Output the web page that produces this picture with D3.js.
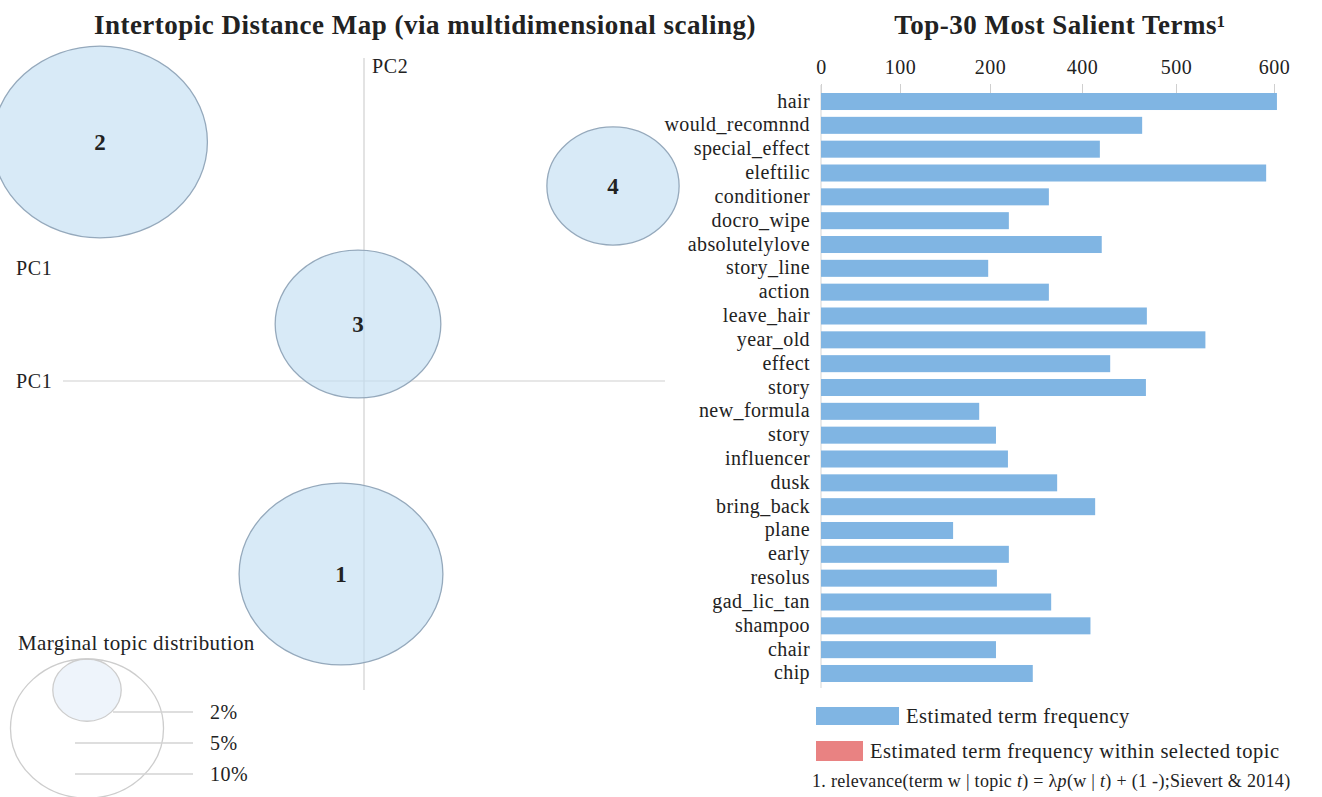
<!DOCTYPE html>
<html>
<head>
    <title>Intertopic Distance Map</title>
    <script src="https://d3js.org/d3.v7.min.js"></script>
    <style>
        body { margin: 0; background: #fff; }
        text { font-family: "Liberation Serif", "DejaVu Serif", serif; fill: #222; }
    </style>
</head>
<body>
    <div id="chart"></div>
    <script>
        // Topics (left panel)
        const topicIds = [1, 2, 3, 4];
        const topicPC1 = [-0.023, -0.264, -0.006, 0.249];
        const topicPC2 = [-0.193, 0.239, 0.057, 0.195];
        const topicShare = [17.1, 19.0, 11.3, 7.2];

        // Legend of marginal topic distribution
        const legendShares = [2, 10];
        const legendLabels = ["2%", "5%", "10%"];

        // Terms (right panel)
        const terms = ["hair", "would_recomnnd", "special_effect", "eleftilic", "conditioner", "docro_wipe",
            "absolutelylove", "story_line", "action", "leave_hair", "year_old", "effect", "story",
            "new_formula", "story", "influencer", "dusk", "bring_back", "plane", "early", "resolus",
            "gad_lic_tan", "shampoo", "chair", "chip"];
        const termFreq = [603, 464, 419, 592, 328, 241, 421, 198, 328, 469, 530, 430, 468,
            188, 213, 239, 346, 414, 159, 241, 215, 333, 409, 213, 293];

        // axis labels as printed on the chart
        const freqTicks = [0, 100, 200, 400, 500, 600];

        const W = 1322, H = 797;
        const svg = d3.select("#chart").append("svg")
            .attr("width", W).attr("height", H);

        //----- Left panel -----
        svg.append("text")
            .attr("x", 425).attr("y", 34)
            .attr("text-anchor", "middle")
            .style("font-size", "27px").style("font-weight", "bold")
            .style("letter-spacing", "0.5px")
            .text("Intertopic Distance Map (via multidimensional scaling)");

        const pcx = d3.scaleLinear().domain([-0.3, 0.3]).range([64, 664]);
        const pcy = d3.scaleLinear().domain([-0.3, 0.3]).range([681, 81]);
        const rScale = d3.scaleSqrt().domain([0, 1]).range([0, 22]);
        const stretch = 1.12; // circles are drawn slightly wider than tall

        // axes lines
        svg.append("line")
            .attr("x1", pcx(0)).attr("x2", pcx(0))
            .attr("y1", 58).attr("y2", 690)
            .attr("stroke", "#d0d0d0").attr("stroke-width", 1.2);
        svg.append("line")
            .attr("x1", pcx(-0.3) - 1).attr("x2", pcx(0.3) + 1)
            .attr("y1", pcy(0)).attr("y2", pcy(0))
            .attr("stroke", "#d0d0d0").attr("stroke-width", 1.2);

        svg.append("text").attr("x", pcx(0) + 8).attr("y", 73)
            .style("font-size", "20px").style("letter-spacing", "0.6px").text("PC2");
        svg.append("text").attr("x", 16).attr("y", pcy(0) + 7)
            .style("font-size", "20px").style("letter-spacing", "0.6px").text("PC1");
        svg.append("text").attr("x", 16).attr("y", 275)
            .style("font-size", "20px").style("letter-spacing", "0.6px").text("PC1");

        const topics = topicIds.map((id, i) => ({
            id: id, x: topicPC1[i], y: topicPC2[i], share: topicShare[i]
        }));

        svg.append("g").selectAll("ellipse")
            .data(topics)
            .enter().append("ellipse")
            .attr("cx", d => pcx(d.x))
            .attr("cy", d => pcy(d.y))
            .attr("rx", d => rScale(d.share) * stretch)
            .attr("ry", d => rScale(d.share))
            .attr("fill", "rgb(195,222,242)")
            .attr("fill-opacity", 0.65)
            .attr("stroke", "#95a9bc")
            .attr("stroke-width", 1.3);

        svg.append("g").selectAll("text")
            .data(topics)
            .enter().append("text")
            .attr("x", d => pcx(d.x))
            .attr("y", d => pcy(d.y) + 8)
            .attr("text-anchor", "middle")
            .style("font-size", "23px").style("font-weight", "bold")
            .text(d => d.id);

        // marginal topic distribution legend
        svg.append("text").attr("x", 18).attr("y", 650)
            .style("font-size", "21px").style("letter-spacing", "0.4px")
            .text("Marginal topic distribution");

        const legTop = 659, legCx = 87;
        svg.append("g").selectAll("ellipse")
            .data(legendShares)
            .enter().append("ellipse")
            .attr("cx", legCx)
            .attr("cy", d => legTop + rScale(d))
            .attr("rx", d => rScale(d) * 1.1)
            .attr("ry", d => rScale(d))
            .attr("fill", (d, i) => i === 0 ? "#eef4fb" : "none")
            .attr("stroke", "#cdcdcd")
            .attr("stroke-width", 1.3);

        const legY = d3.scalePoint().domain(legendLabels).range([712, 774]);
        svg.append("g").selectAll("line")
            .data(legendLabels)
            .enter().append("line")
            .attr("x1", (d, i) => i === 0 ? 113 : 75)
            .attr("x2", 193)
            .attr("y1", d => legY(d)).attr("y2", d => legY(d))
            .attr("stroke", "#d3d3d3").attr("stroke-width", 1.3);
        svg.append("g").selectAll("text")
            .data(legendLabels)
            .enter().append("text")
            .attr("x", 210)
            .attr("y", d => legY(d) + 7)
            .style("font-size", "20px").style("letter-spacing", "0.5px")
            .text(d => d);

        //----- Right panel -----
        svg.append("text")
            .attr("x", 1060).attr("y", 34)
            .attr("text-anchor", "middle")
            .style("font-size", "27px").style("font-weight", "bold")
            .style("letter-spacing", "0.5px")
            .text("Top-30 Most Salient Terms¹");

        // the printed tick labels are unevenly spaced; piecewise scale follows them
        const x = d3.scaleLinear()
            .domain(freqTicks)
            .range([821, 900, 990, 1082, 1176, 1274]);

        const y = d3.scaleBand()
            .domain(d3.range(terms.length))
            .range([93, 682])
            .paddingInner(0.286)
            .paddingOuter(0);

        const xAxis = svg.append("g")
            .attr("transform", "translate(0,93)")
            .call(d3.axisTop(x).tickValues(freqTicks).tickFormat(d3.format("d")).tickSize(9).tickPadding(10));
        xAxis.select(".domain").remove();
        xAxis.selectAll(".tick line").attr("stroke", "#cfcfcf");
        xAxis.selectAll(".tick text")
            .style("font-size", "20px")
            .style("letter-spacing", "0.5px")
            .style("font-family", "\"Liberation Serif\", serif")
            .attr("fill", "#222");

        svg.append("line")
            .attr("x1", x(0)).attr("x2", x(0))
            .attr("y1", 85).attr("y2", 688)
            .attr("stroke", "#d5d5d5");

        svg.append("g").selectAll("rect")
            .data(termFreq)
            .enter().append("rect")
            .attr("x", x(0))
            .attr("y", (d, i) => y(i))
            .attr("width", d => x(d) - x(0))
            .attr("height", y.bandwidth())
            .attr("fill", "#80b5e3");

        svg.append("g").selectAll("text")
            .data(terms)
            .enter().append("text")
            .attr("x", 810)
            .attr("y", (d, i) => y(i) + y.bandwidth() / 2 + 6)
            .attr("text-anchor", "end")
            .style("font-size", "20px")
            .style("letter-spacing", "0.4px")
            .text(d => d);

        // legend
        svg.append("rect").attr("x", 816).attr("y", 707).attr("width", 83).attr("height", 18)
            .attr("fill", "#80b5e3");
        svg.append("text").attr("x", 906).attr("y", 723)
            .style("font-size", "20.5px").style("letter-spacing", "0.5px")
            .text("Estimated term frequency");
        svg.append("rect").attr("x", 816).attr("y", 741).attr("width", 47).attr("height", 20)
            .attr("fill", "#e98282");
        svg.append("text").attr("x", 870).attr("y", 758)
            .style("font-size", "20.5px").style("letter-spacing", "0.5px")
            .text("Estimated term frequency within selected topic");

        const foot = svg.append("text").attr("x", 812).attr("y", 787)
            .style("font-size", "18px").style("letter-spacing", "0.3px");
        foot.append("tspan").text("1. relevance(term w | topic ");
        foot.append("tspan").style("font-style", "italic").text("t");
        foot.append("tspan").text(") = λ");
        foot.append("tspan").style("font-style", "italic").text("p");
        foot.append("tspan").text("(w | ");
        foot.append("tspan").style("font-style", "italic").text("t");
        foot.append("tspan").text(") + (1 -);Sievert & 2014)");
    </script>
</body>
</html>
